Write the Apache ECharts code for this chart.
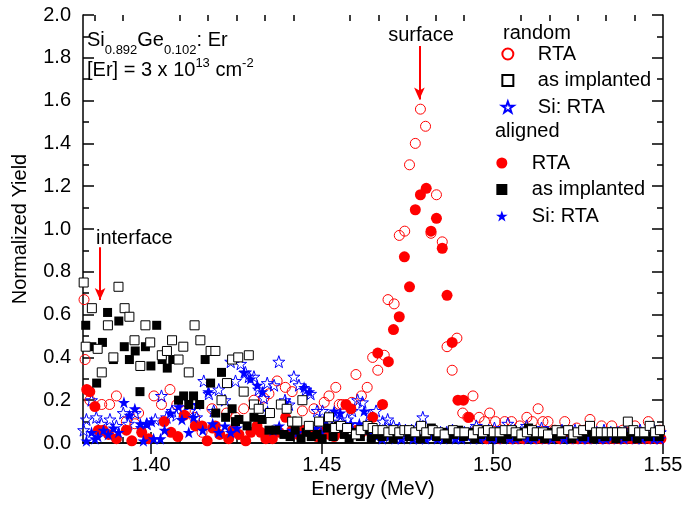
<!DOCTYPE html>
<html>
<head>
  <meta charset="UTF-8">
  <title>SiGe:Er normalized yield</title>
  <script src="https://cdn.jsdelivr.net/npm/echarts@6/dist/echarts.min.js"></script>
  <style>
    body { margin: 0; background: #fff; }
    #chart { width: 686px; height: 507px; }
  </style>
</head>
<body>
<div id="chart"></div>
<script>
// axis ticks
var xLabelTicks = [1.40, 1.45, 1.50, 1.55];
var xMinorTicks = [1.38333, 1.39167, 1.40833, 1.41667, 1.425, 1.43333, 1.44167, 1.45833, 1.46667, 1.475,
  1.48333, 1.49167, 1.50833, 1.51667, 1.525, 1.53333, 1.54167];

// [energy (MeV), normalized yield]
var randomRTA = [[1.3803,0.67],[1.3806,0.39],[1.3820,0.20],[1.3855,0.18],[1.3878,0.18],[1.3898,0.22],[1.3927,0.10],
  [1.3952,0.09],[1.3963,0.14],[1.4008,0.22],[1.4030,0.18],[1.4055,0.25],[1.4075,0.18],[1.4100,0.15],[1.4127,0.12],
  [1.4149,0.05],[1.4178,0.16],[1.4221,0.14],[1.4248,0.12],[1.4271,0.16],[1.4301,0.20],[1.4330,0.21],[1.4345,0.23],
  [1.4369,0.29],[1.4393,0.26],[1.4413,0.24],[1.4443,0.15],[1.4477,0.16],[1.4507,0.19],[1.4521,0.22],[1.4541,0.26],
  [1.4551,0.18],[1.4560,0.18],[1.4588,0.19],[1.4600,0.32],[1.4616,0.22],[1.4633,0.26],[1.4649,0.40],[1.4664,0.34],
  [1.4683,0.41],[1.4694,0.67],[1.4712,0.65],[1.4727,0.97],[1.4743,0.99],[1.4757,1.30],[1.4774,1.40],[1.4789,1.56],
  [1.4804,1.48],[1.4820,0.98],[1.4836,1.16],[1.4853,0.94],[1.4867,0.45],[1.4882,0.34],[1.4896,0.49],[1.4913,0.14],
  [1.4928,0.12],[1.4943,0.22],[1.4961,0.12],[1.4977,0.10],[1.4992,0.14],[1.5009,0.10],[1.5036,0.10],[1.5056,0.10],
  [1.5080,0.08],[1.5101,0.12],[1.5117,0.10],[1.5134,0.16],[1.5148,0.10],[1.5163,0.10],[1.5183,0.06],[1.5212,0.10],
  [1.5247,0.07],[1.5271,0.06],[1.5286,0.11],[1.5320,0.08],[1.5350,0.08],[1.5382,0.06],[1.5397,0.05],[1.5418,0.08],
  [1.5457,0.10],[1.5477,0.05],[1.5491,0.06]];

var randomImplanted = [[1.3802,0.75],[1.3808,0.45],[1.3826,0.63],[1.3843,0.44],[1.3855,0.33],[1.3873,0.55],[1.3889,0.40],
  [1.3904,0.73],[1.3922,0.63],[1.3936,0.59],[1.3951,0.48],[1.3968,0.36],[1.3983,0.55],[1.3997,0.47],[1.4031,0.41],
  [1.4046,0.43],[1.4061,0.48],[1.4080,0.39],[1.4094,0.45],[1.4110,0.33],[1.4127,0.55],[1.4144,0.48],[1.4174,0.43],
  [1.4188,0.43],[1.4206,0.20],[1.4222,0.28],[1.4237,0.39],[1.4255,0.40],[1.4271,0.24],[1.4286,0.41],[1.4301,0.18],
  [1.4315,0.16],[1.4348,0.14],[1.4380,0.18],[1.4397,0.16],[1.4413,0.10],[1.4428,0.10],[1.4443,0.20],[1.4462,0.08],
  [1.4492,0.10],[1.4521,0.12],[1.4539,0.07],[1.4556,0.08],[1.4574,0.07],[1.4600,0.04],[1.4614,0.06],[1.4634,0.08],
  [1.4649,0.07],[1.4662,0.06],[1.4678,0.06],[1.4695,0.05],[1.4710,0.06],[1.4727,0.05],[1.4742,0.06],[1.4756,0.06],
  [1.4774,0.05],[1.4791,0.08],[1.4806,0.05],[1.4825,0.06],[1.4842,0.05],[1.4860,0.04],[1.4884,0.06],[1.4901,0.05],
  [1.4918,0.05],[1.4943,0.04],[1.4957,0.06],[1.4972,0.05],[1.4987,0.06],[1.5004,0.05],[1.5021,0.05],[1.5036,0.06],
  [1.5056,0.06],[1.5068,0.05],[1.5085,0.04],[1.5101,0.05],[1.5116,0.06],[1.5130,0.05],[1.5148,0.05],[1.5163,0.04],
  [1.5188,0.06],[1.5203,0.05],[1.5222,0.06],[1.5237,0.04],[1.5250,0.05],[1.5266,0.06],[1.5286,0.08],[1.5304,0.05],
  [1.5318,0.05],[1.5335,0.05],[1.5350,0.05],[1.5365,0.05],[1.5380,0.05],[1.5397,0.10],[1.5413,0.06],[1.5430,0.05],
  [1.5445,0.05],[1.5461,0.08],[1.5477,0.05],[1.5491,0.06]];

var randomSiRTA = [[1.3802,0.06],[1.3810,0.11],[1.3825,0.20],[1.3839,0.12],[1.3854,0.09],[1.3879,0.11],[1.3898,0.08],
  [1.3918,0.14],[1.3933,0.09],[1.3953,0.14],[1.3972,0.07],[1.3987,0.09],[1.4012,0.11],[1.4030,0.22],[1.4045,0.12],
  [1.4061,0.15],[1.4074,0.13],[1.4094,0.19],[1.4113,0.15],[1.4133,0.12],[1.4154,0.29],[1.4169,0.23],[1.4183,0.15],
  [1.4198,0.25],[1.4216,0.20],[1.4233,0.38],[1.4247,0.29],[1.4262,0.37],[1.4276,0.33],[1.4286,0.31],[1.4301,0.31],
  [1.4315,0.25],[1.4330,0.21],[1.4340,0.28],[1.4360,0.27],[1.4374,0.38],[1.4392,0.20],[1.4404,0.18],[1.4418,0.31],
  [1.4433,0.27],[1.4453,0.25],[1.4467,0.23],[1.4486,0.15],[1.4502,0.15],[1.4521,0.12],[1.4539,0.11],[1.4554,0.10],
  [1.4575,0.11],[1.4589,0.15],[1.4605,0.20],[1.4619,0.19],[1.4639,0.13],[1.4659,0.15],[1.4678,0.10],[1.4693,0.11],
  [1.4710,0.08],[1.4727,0.07],[1.4745,0.06],[1.4763,0.06],[1.4777,0.07],[1.4796,0.12],[1.4813,0.05],[1.4830,0.05],
  [1.4848,0.05],[1.4866,0.05],[1.4883,0.06],[1.4901,0.05],[1.4918,0.05],[1.4936,0.05],[1.4953,0.08],[1.4968,0.05],
  [1.4989,0.06],[1.5006,0.07],[1.5024,0.05],[1.5045,0.09],[1.5065,0.06],[1.5083,0.05],[1.5100,0.08],[1.5118,0.05],
  [1.5144,0.07],[1.5163,0.05],[1.5183,0.05],[1.5204,0.06],[1.5221,0.05],[1.5242,0.06],[1.5262,0.05],[1.5286,0.06],
  [1.5306,0.05],[1.5327,0.06],[1.5347,0.05],[1.5368,0.05],[1.5389,0.06],[1.5409,0.05],[1.5433,0.06],[1.5453,0.05],
  [1.5474,0.06],[1.5492,0.05]];

var alignedRTA = [[1.3811,0.25],[1.3820,0.24],[1.3835,0.17],[1.3845,0.06],[1.3859,0.06],[1.3875,0.04],[1.3898,0.02],
  [1.3927,0.06],[1.3943,0.01],[1.3972,0.05],[1.3992,0.02],[1.4038,0.10],[1.4058,0.05],[1.4078,0.03],[1.4097,0.13],
  [1.4129,0.08],[1.4149,0.08],[1.4164,0.01],[1.4180,0.07],[1.4188,0.08],[1.4201,0.04],[1.4227,0.02],[1.4239,0.06],
  [1.4257,0.04],[1.4277,0.01],[1.4292,0.05],[1.4310,0.08],[1.4321,0.05],[1.4336,0.02],[1.4355,0.02],[1.4375,0.05],
  [1.4394,0.12],[1.4413,0.06],[1.4430,0.04],[1.4448,0.06],[1.4466,0.05],[1.4486,0.03],[1.4504,0.05],[1.4521,0.04],
  [1.4536,0.03],[1.4553,0.05],[1.4571,0.18],[1.4585,0.16],[1.4601,0.06],[1.4616,0.05],[1.4633,0.06],[1.4649,0.12],
  [1.4664,0.42],[1.4678,0.18],[1.4695,0.38],[1.4710,0.53],[1.4727,0.59],[1.4742,0.87],[1.4757,0.73],[1.4774,1.09],
  [1.4789,1.16],[1.4806,1.19],[1.4820,0.99],[1.4836,1.05],[1.4853,0.91],[1.4867,0.69],[1.4882,0.47],[1.4899,0.20],
  [1.4915,0.20],[1.4931,0.12],[1.4948,0.05],[1.4965,0.03],[1.4983,0.02],[1.5004,0.03],[1.5021,0.02],[1.5039,0.03],
  [1.5056,0.02],[1.5074,0.02],[1.5092,0.02],[1.5109,0.03],[1.5127,0.02],[1.5145,0.02],[1.5163,0.02],[1.5180,0.03],
  [1.5198,0.02],[1.5215,0.03],[1.5233,0.02],[1.5250,0.02],[1.5268,0.02],[1.5286,0.02],[1.5304,0.03],[1.5321,0.02],
  [1.5339,0.02],[1.5356,0.02],[1.5374,0.02],[1.5392,0.02],[1.5409,0.02],[1.5427,0.02],[1.5445,0.02],[1.5462,0.02],
  [1.5480,0.02],[1.5494,0.02]];

var alignedImplanted = [[1.3808,0.55],[1.3826,0.45],[1.3840,0.28],[1.3857,0.47],[1.3872,0.61],[1.3889,0.39],[1.3905,0.57],
  [1.3921,0.45],[1.3936,0.39],[1.3953,0.43],[1.3967,0.24],[1.3983,0.45],[1.3999,0.36],[1.4016,0.55],[1.4032,0.39],
  [1.4047,0.35],[1.4063,0.39],[1.4080,0.20],[1.4095,0.22],[1.4110,0.18],[1.4124,0.22],[1.4142,0.18],[1.4158,0.39],
  [1.4174,0.28],[1.4189,0.14],[1.4206,0.33],[1.4218,0.12],[1.4237,0.16],[1.4247,0.10],[1.4257,0.11],[1.4281,0.08],
  [1.4301,0.12],[1.4325,0.11],[1.4345,0.06],[1.4365,0.06],[1.4389,0.04],[1.4407,0.03],[1.4422,0.06],[1.4439,0.02],
  [1.4454,0.05],[1.4469,0.03],[1.4486,0.04],[1.4501,0.02],[1.4516,0.07],[1.4533,0.03],[1.4548,0.08],[1.4566,0.04],
  [1.4580,0.02],[1.4598,0.05],[1.4613,0.03],[1.4627,0.06],[1.4645,0.02],[1.4660,0.04],[1.4677,0.03],[1.4692,0.05],
  [1.4709,0.02],[1.4724,0.04],[1.4742,0.06],[1.4756,0.03],[1.4774,0.05],[1.4789,0.02],[1.4806,0.04],[1.4821,0.07],
  [1.4836,0.03],[1.4854,0.05],[1.4868,0.02],[1.4886,0.04],[1.4901,0.06],[1.4915,0.03],[1.4933,0.05],[1.4948,0.02],
  [1.4965,0.04],[1.4980,0.06],[1.4995,0.03],[1.5012,0.05],[1.5027,0.02],[1.5045,0.04],[1.5059,0.06],[1.5074,0.03],
  [1.5092,0.05],[1.5106,0.07],[1.5121,0.03],[1.5139,0.04],[1.5153,0.02],[1.5171,0.05],[1.5186,0.03],[1.5203,0.04],
  [1.5218,0.06],[1.5233,0.02],[1.5250,0.04],[1.5265,0.03],[1.5283,0.05],[1.5297,0.02],[1.5315,0.04],[1.5330,0.03],
  [1.5345,0.05],[1.5362,0.02],[1.5377,0.04],[1.5394,0.03],[1.5409,0.05],[1.5424,0.02],[1.5442,0.04],[1.5457,0.03],
  [1.5474,0.05],[1.5489,0.03]];

var alignedSiRTA = [[1.3810,0.01],[1.3825,0.05],[1.3835,0.02],[1.3844,0.03],[1.3860,0.06],[1.3874,0.04],[1.3889,0.07],
  [1.3904,0.05],[1.3920,0.19],[1.3936,0.13],[1.3952,0.16],[1.3968,0.09],[1.3977,0.01],[1.3986,0.09],[1.4001,0.10],
  [1.4007,0.02],[1.4027,0.02],[1.4039,0.06],[1.4056,0.14],[1.4080,0.17],[1.4090,0.11],[1.4110,0.05],[1.4124,0.12],
  [1.4134,0.18],[1.4151,0.06],[1.4167,0.24],[1.4180,0.09],[1.4198,0.05],[1.4216,0.08],[1.4233,0.05],[1.4251,0.07],
  [1.4272,0.33],[1.4291,0.30],[1.4311,0.27],[1.4326,0.24],[1.4341,0.15],[1.4357,0.06],[1.4375,0.08],[1.4394,0.19],
  [1.4413,0.06],[1.4430,0.05],[1.4448,0.26],[1.4463,0.24],[1.4483,0.07],[1.4498,0.05],[1.4507,0.10],[1.4516,0.08],
  [1.4536,0.15],[1.4554,0.14],[1.4571,0.08],[1.4585,0.09],[1.4610,0.09],[1.4624,0.15],[1.4642,0.04],[1.4660,0.03],
  [1.4677,0.02],[1.4698,0.03],[1.4715,0.02],[1.4733,0.02],[1.4751,0.03],[1.4768,0.02],[1.4786,0.02],[1.4804,0.02],
  [1.4821,0.03],[1.4839,0.02],[1.4857,0.02],[1.4874,0.03],[1.4892,0.02],[1.4909,0.02],[1.4927,0.03],[1.4945,0.02],
  [1.4962,0.02],[1.4980,0.03],[1.4998,0.02],[1.5015,0.02],[1.5033,0.03],[1.5051,0.02],[1.5068,0.02],[1.5086,0.03],
  [1.5104,0.02],[1.5121,0.02],[1.5139,0.03],[1.5157,0.02],[1.5174,0.02],[1.5192,0.03],[1.5210,0.02],[1.5227,0.02],
  [1.5245,0.03],[1.5263,0.02],[1.5280,0.02],[1.5298,0.03],[1.5315,0.02],[1.5333,0.02],[1.5351,0.03],[1.5368,0.02],
  [1.5386,0.02],[1.5404,0.03],[1.5421,0.02],[1.5439,0.02],[1.5457,0.03],[1.5474,0.02],[1.5492,0.02]];

// arrows: [x, yStart, yEnd]
var surfaceArrow = [1.4786, 1.855, 1.605];
var interfaceArrow = [1.3850, 0.915, 0.668];

var FONT = 'Liberation Sans';
var RED = '#ff0000', BLUE = '#0000ff', BLACK = '#000000';
var STAR = 'path://M50,2 L61.8,36.2 L97.6,36.2 L68.6,57.4 L79.4,91.6 L50,70.4 L20.6,91.6 L31.4,57.4 L2.4,36.2 L38.2,36.2 Z';
var SQUARE = 'path://M0,0 L10,0 L10,10 L0,10 Z';

function scatter(name, data, symbol, size, fill, stroke) {
  return {
    name: name,
    type: 'scatter',
    data: data,
    symbol: symbol,
    symbolSize: size,
    itemStyle: { color: fill, borderColor: stroke, borderWidth: stroke ? 1 : 0, opacity: 1 },
    emphasis: { disabled: true }
  };
}

function stripGroup(name) {
  return name.replace(/^(random|aligned) /, '');
}

var axisLine = { show: true, lineStyle: { color: BLACK, width: 1.5 } };

var chart = echarts.init(document.getElementById('chart'), null, { renderer: 'canvas' });

var series = [
  scatter('random RTA', randomRTA, 'circle', 10, 'rgba(255,255,255,0)', RED),
  scatter('random Si: RTA', randomSiRTA, STAR, 12, 'rgba(255,255,255,0)', BLUE),
  scatter('aligned RTA', alignedRTA, 'circle', 11, RED, null),
  scatter('aligned Si: RTA', alignedSiRTA, STAR, 12, BLUE, null),
  scatter('aligned as implanted', alignedImplanted, SQUARE, 9, BLACK, null),
  scatter('random as implanted', randomImplanted, SQUARE, 9, '#ffffff', BLACK)
];
series[2].markLine = {
  silent: true,
  symbol: ['none', 'arrow'],
  symbolSize: [8, 12],
  label: { show: false },
  lineStyle: { color: RED, width: 2, type: 'solid' },
  data: [
    [{ coord: [surfaceArrow[0], surfaceArrow[1]] }, { coord: [surfaceArrow[0], surfaceArrow[2]] }],
    [{ coord: [interfaceArrow[0], interfaceArrow[1]] }, { coord: [interfaceArrow[0], interfaceArrow[2]] }]
  ]
};

var legendBase = {
  orient: 'vertical',
  itemWidth: 50,
  itemHeight: 11,
  itemGap: 6.5,
  padding: 0,
  selectedMode: false,
  formatter: stripGroup,
  textStyle: { fontSize: 20, fontFamily: FONT, color: BLACK, lineHeight: 20 }
};

chart.setOption({
  animation: false,
  textStyle: { fontFamily: FONT },
  grid: { left: 83, right: 23, top: 15, bottom: 64 },
  legend: [
    Object.assign({}, legendBase, { left: 501, top: 44,
      data: ['random RTA', 'random as implanted', 'random Si: RTA'] }),
    Object.assign({}, legendBase, { left: 496, top: 153,
      data: ['aligned RTA', 'aligned as implanted', 'aligned Si: RTA'] })
  ],
  xAxis: [
    {
      type: 'value', position: 'bottom', min: 1.38, max: 1.55,
      name: 'Energy (MeV)', nameLocation: 'middle', nameGap: 35,
      nameTextStyle: { fontSize: 20, fontFamily: FONT, color: BLACK },
      axisLine: axisLine,
      axisTick: { inside: true, length: 11, customValues: xLabelTicks, lineStyle: { color: BLACK, width: 1.5 } },
      axisLabel: { customValues: xLabelTicks, fontSize: 20, color: BLACK, margin: 12,
        formatter: function (v) { return v.toFixed(2); } },
      splitLine: { show: false }
    },
    {
      type: 'value', position: 'top', min: 1.38, max: 1.55,
      axisLine: axisLine,
      axisTick: { inside: true, length: 11, customValues: xLabelTicks, lineStyle: { color: BLACK, width: 1.5 } },
      axisLabel: { show: false },
      splitLine: { show: false }
    },
    {
      type: 'value', position: 'bottom', min: 1.38, max: 1.55,
      axisLine: { show: false },
      axisTick: { inside: true, length: 6, customValues: xMinorTicks, lineStyle: { color: BLACK, width: 1.5 } },
      axisLabel: { show: false },
      splitLine: { show: false }
    },
    {
      type: 'value', position: 'top', min: 1.38, max: 1.55,
      axisLine: { show: false },
      axisTick: { inside: true, length: 6, customValues: xMinorTicks, lineStyle: { color: BLACK, width: 1.5 } },
      axisLabel: { show: false },
      splitLine: { show: false }
    }
  ],
  yAxis: [
    {
      type: 'value', position: 'left', min: 0, max: 2, interval: 0.2,
      name: 'Normalized Yield', nameLocation: 'middle', nameGap: 53,
      nameTextStyle: { fontSize: 20, fontFamily: FONT, color: BLACK },
      axisLine: axisLine,
      axisTick: { inside: true, length: 11, lineStyle: { color: BLACK, width: 1.5 } },
      minorTick: { show: true, splitNumber: 2, length: 6, lineStyle: { color: BLACK, width: 1.5 } },
      axisLabel: { fontSize: 20, color: BLACK, margin: 12,
        formatter: function (v) { return v.toFixed(1); } },
      splitLine: { show: false }
    },
    {
      type: 'value', position: 'right', min: 0, max: 2, interval: 0.2,
      axisLine: axisLine,
      axisTick: { inside: true, length: 11, lineStyle: { color: BLACK, width: 1.5 } },
      minorTick: { show: true, splitNumber: 2, length: 6, lineStyle: { color: BLACK, width: 1.5 } },
      axisLabel: { show: false },
      splitLine: { show: false }
    }
  ],
  graphic: [
    { type: 'text', x: 87, y: 40, style: {
        text: '{m|Si}{s|0.892}{m|Ge}{s|0.102}{m|: Er}', verticalAlign: 'middle', fill: BLACK, fontFamily: FONT,
        rich: { m: { fontSize: 20, lineHeight: 34, fontFamily: FONT }, s: { fontSize: 13, lineHeight: 13, verticalAlign: 'bottom', fontFamily: FONT } } } },
    { type: 'text', x: 87, y: 70, style: {
        text: '{m|[Er] = 3 x 10}{p|13}{m| cm}{p|-2}', verticalAlign: 'middle', fill: BLACK, fontFamily: FONT,
        rich: { m: { fontSize: 20, lineHeight: 26, fontFamily: FONT }, p: { fontSize: 13, lineHeight: 13, verticalAlign: 'top', fontFamily: FONT } } } },
    { type: 'text', x: 421, y: 35, style: { text: 'surface', fontSize: 20, fontFamily: FONT, fill: BLACK, align: 'center', verticalAlign: 'middle' } },
    { type: 'text', x: 96, y: 238, style: { text: 'interface', fontSize: 20, fontFamily: FONT, fill: BLACK, align: 'left', verticalAlign: 'middle' } },
    { type: 'text', x: 503, y: 33, style: { text: 'random', fontSize: 20, fontFamily: FONT, fill: BLACK, align: 'left', verticalAlign: 'middle' } },
    { type: 'text', x: 495, y: 131, style: { text: 'aligned', fontSize: 20, fontFamily: FONT, fill: BLACK, align: 'left', verticalAlign: 'middle' } }
  ],
  series: series
});
</script>
</body>
</html>
